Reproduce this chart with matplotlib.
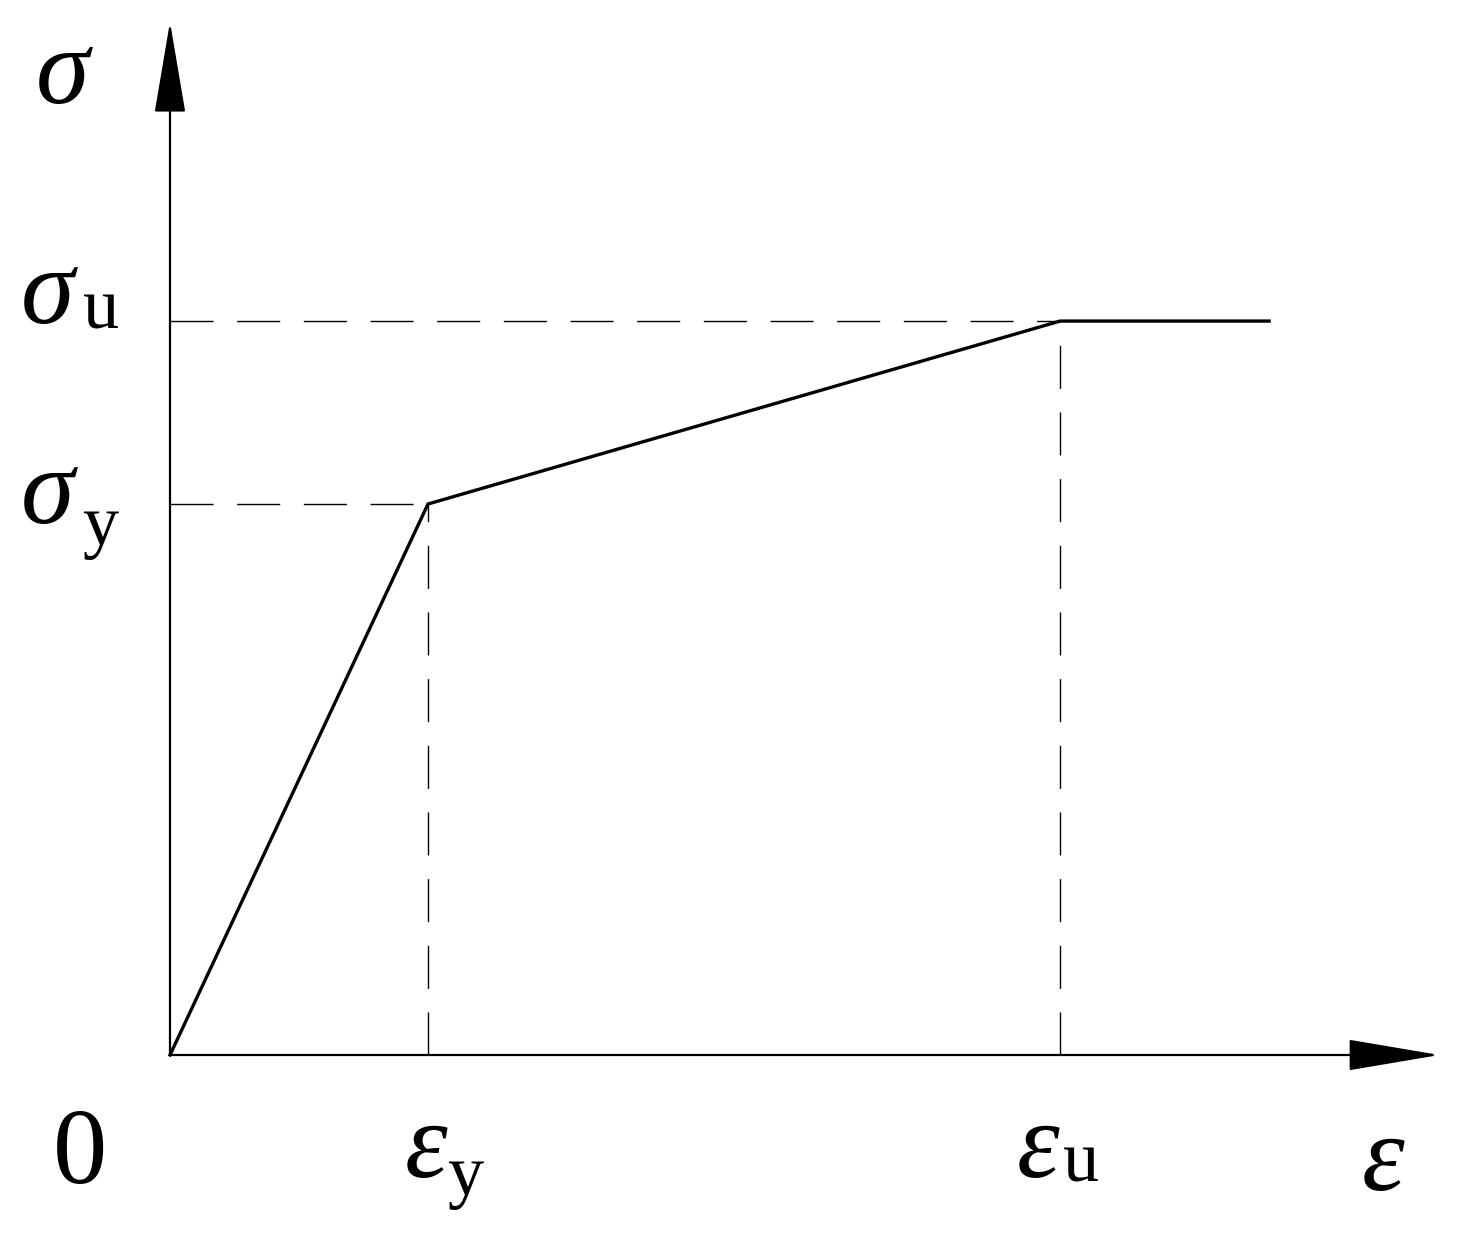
import matplotlib
matplotlib.use('Agg')
import matplotlib.pyplot as plt

plt.rcParams['lines.scale_dashes'] = False

# bilinear stress-strain model (normalised units)
eps = [0.0, 1.0, 3.45, 4.26]        # 0, eps_y, eps_u, end of plateau
sig = [0.0, 1.0, 1.332, 1.332]      # 0, sigma_y, sigma_u, sigma_u
eps_y, eps_u = eps[1], eps[2]
sig_y, sig_u = sig[1], sig[2]
x_axis_end = 4.92
y_axis_end = 1.875

fig = plt.figure(figsize=(14.62, 12.42), dpi=100)
ax = fig.add_axes([0, 0, 1, 1])
ax.set_xlim(-170 / 258, (1462 - 170) / 258)
ax.set_ylim(-(1242 - 1055) / 551, 1055 / 551)
ax.axis('off')

# axes with arrow heads
arrow = dict(arrowstyle='-|>,head_length=5.9,head_width=1.0', mutation_scale=10,
             lw=1.6, color='k', fc='k', shrinkA=0, shrinkB=0)
ax.annotate('', xy=(x_axis_end, 0), xytext=(0, 0), arrowprops=arrow)
ax.annotate('', xy=(0, y_axis_end), xytext=(0, 0), arrowprops=arrow)

# dashed guide lines
dash = dict(color='k', lw=1.0, ls='--', dashes=(31, 17))
ax.plot([0, eps_y], [sig_y, sig_y], **dash)
ax.plot([0, eps_u], [sig_u, sig_u], **dash)
ax.plot([eps_y, eps_y], [0, sig_y], **dash)
ax.plot([eps_u, eps_u], [0, sig_u], **dash)

# curve
ax.plot(eps, sig, color='k', lw=2.4, solid_joinstyle='miter')

big = dict(family='Liberation Serif', fontsize=78, color='k', va='baseline',
           textcoords='offset pixels')
sub = dict(family='Liberation Serif', fontsize=52, color='k', va='baseline',
           textcoords='offset pixels', ha='left')


def label(s, xy, off, **kw):
    ax.annotate(s, xy=xy, xytext=off, **kw)


label('σ', (0, y_axis_end), (-81, -81), style='italic', ha='right', **big)
label('σ', (0, sig_u), (-96, -2), style='italic', ha='right', **big)
label('u', (0, sig_u), (-87, -7), **sub)
label('σ', (0, sig_y), (-96, -19), style='italic', ha='right', **big)
label('y', (0, sig_y), (-88, -41), **sub)
label('0', (0, 0), (-90, -128), ha='center', **big)
label('ε', (eps_y, 0), (-23, -122), style='italic', ha='left', **big)
label('y', (eps_y, 0), (19, -140), **sub)
label('ε', (eps_u, 0), (-43, -122), style='italic', ha='left', **big)
label('u', (eps_u, 0), (3, -127), **sub)
label('ε', (x_axis_end, 0), (-78, -135), style='italic', ha='left', **big)

fig.savefig('out.png', dpi=100)
